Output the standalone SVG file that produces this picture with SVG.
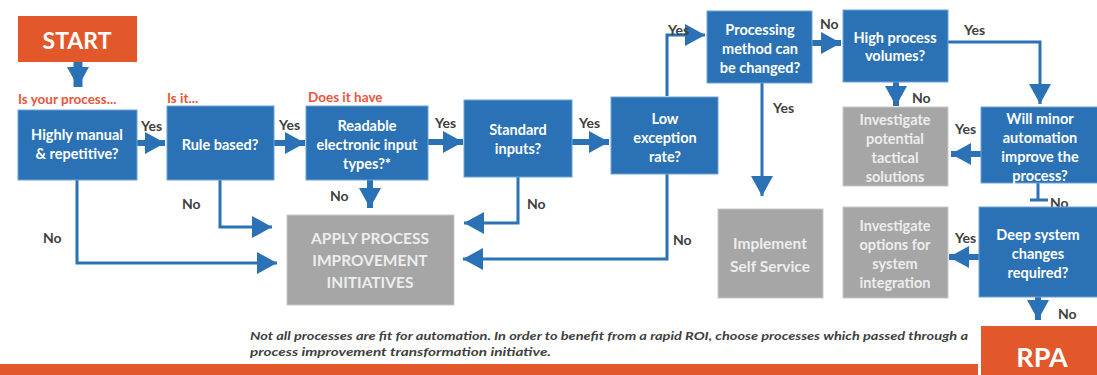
<svg xmlns="http://www.w3.org/2000/svg" width="1097" height="375" viewBox="0 0 1097 375">
<style>
.bx{fill:#2A72B5;stroke:#6FA2D6;stroke-width:1}
.gy{fill:#A6A6A6;stroke:#C9C9C9;stroke-width:1}
.or{fill:#E2582B}
.t{font-family:Lato,"Liberation Sans",sans-serif;font-weight:bold;font-size:14.5px;fill:#FFFFFF;text-anchor:middle;dominant-baseline:central}
.tg{font-family:Lato,"Liberation Sans",sans-serif;font-weight:bold;font-size:14.5px;fill:#EDEDED;text-anchor:middle;dominant-baseline:central}
.tg2{font-family:Lato,"Liberation Sans",sans-serif;font-weight:bold;font-size:15.5px;fill:#EDEDED;text-anchor:middle;dominant-baseline:central}
.h{font-family:Lato,"Liberation Sans",sans-serif;font-weight:bold;font-size:13.5px;fill:#E8553A}
.lb{font-family:Lato,"Liberation Sans",sans-serif;font-weight:bold;font-size:14px;fill:#404040;dominant-baseline:central}
.big{font-family:Lato,"Liberation Sans",sans-serif;font-weight:bold;fill:#FFFFFF;text-anchor:middle;dominant-baseline:central}
.fn{font-family:Lato,"Liberation Sans",sans-serif;font-style:italic;font-weight:bold;font-size:12px;fill:#404040}
.c{fill:none;stroke:#2A72B5;stroke-width:3;marker-end:url(#ah)}
.c6{fill:none;stroke:#2A72B5;stroke-width:6;marker-end:url(#ah)}
</style>
<defs>
<marker id="ah" viewBox="0 0 20 22" refX="20" refY="11" markerWidth="20" markerHeight="22" markerUnits="userSpaceOnUse" orient="auto">
<path d="M0,0 L20,11 L0,22 Z" fill="#2A72B5"/>
</marker>
</defs>
<rect x="0" y="0" width="1097" height="375" fill="#FFFFFF"/>

<g id="connectors">
<path class="c6" d="M78,62 V87" style="stroke-width:9"/>
<path class="c6" d="M137,143 H165"/>
<path class="c6" d="M274,143 H305"/>
<path class="c6" d="M428,142 H463"/>
<path class="c6" d="M572,142 H609"/>
<path class="c" d="M667,96 V35 H705"/>
<path class="c6" d="M812,43 H841"/>
<path class="c" d="M948,42 H1040 V104"/>
<path class="c6" d="M896,82 V106"/>
<path class="c" d="M762,83 V196"/>
<path class="c6" d="M981,154 H951"/>
<path d="M1038,183 V200 M1030,200 H1048" fill="none" stroke="#2A72B5" stroke-width="3"/>
<path class="c6" d="M979,257 H949"/>
<path class="c6" d="M1038,297 V320"/>
<path class="c" d="M77,180 V263 H277"/>
<path class="c" d="M220,180 V227 H272"/>
<path class="c6" d="M370,180 V208"/>
<path class="c" d="M518,177 V223 H464"/>
<path class="c" d="M667,174 V259 H463"/>
<text class="lb" x="141" y="125">Yes</text>
<text class="lb" x="279" y="124">Yes</text>
<text class="lb" x="435" y="122">Yes</text>
<text class="lb" x="579" y="122">Yes</text>
<text class="lb" x="668" y="29">Yes</text>
<text class="lb" x="820" y="23">No</text>
<text class="lb" x="964" y="29">Yes</text>
<text class="lb" x="912" y="97">No</text>
<text class="lb" x="773" y="107">Yes</text>
<text class="lb" x="955" y="128">Yes</text>
<text class="lb" x="1050" y="202">No</text>
<text class="lb" x="955" y="237">Yes</text>
<text class="lb" x="1058" y="313">No</text>
<text class="lb" x="43" y="237">No</text>
<text class="lb" x="182" y="203">No</text>
<text class="lb" x="330" y="195">No</text>
<text class="lb" x="527" y="203">No</text>
<text class="lb" x="673" y="239">No</text>
</g>

<g id="start">
<rect class="or" x="18" y="16" width="119" height="46"/>
<text class="big" x="77" y="40" style="font-size:23px">START</text>
</g>
<g id="manual">
<text class="h" x="18" y="104">Is your process...</text>
<rect class="bx" x="18" y="110" width="119" height="70"/>
<text class="t" x="77" y="134">Highly manual</text>
<text class="t" x="77" y="153">&amp; repetitive?</text>
</g>
<g id="rule">
<text class="h" x="167" y="103">Is it...</text>
<rect class="bx" x="167" y="106" width="107" height="74"/>
<text class="t" x="220" y="144">Rule based?</text>
</g>
<g id="readable">
<text class="h" x="308" y="102">Does it have</text>
<rect class="bx" x="306" y="106" width="122" height="74"/>
<text class="t" x="367" y="125">Readable</text>
<text class="t" x="367" y="144">electronic input</text>
<text class="t" x="367" y="163">types?*</text>
</g>
<g id="standard">
<rect class="bx" x="464" y="100" width="108" height="77"/>
<text class="t" x="518" y="129">Standard</text>
<text class="t" x="518" y="148">inputs?</text>
</g>
<g id="low">
<rect class="bx" x="611" y="97" width="107" height="77"/>
<text class="t" x="665" y="118">Low</text>
<text class="t" x="665" y="137">exception</text>
<text class="t" x="665" y="156">rate?</text>
</g>
<g id="processing">
<rect class="bx" x="707" y="11" width="105" height="72"/>
<text class="t" x="760" y="29">Processing</text>
<text class="t" x="760" y="48">method can</text>
<text class="t" x="760" y="67">be changed?</text>
</g>
<g id="high">
<rect class="bx" x="843" y="10" width="105" height="72"/>
<text class="t" x="895" y="37">High process</text>
<text class="t" x="895" y="55">volumes?</text>
</g>
<g id="tactical">
<rect class="gy" x="843" y="107" width="105" height="79"/>
<text class="tg" x="895" y="119">Investigate</text>
<text class="tg" x="895" y="138">potential</text>
<text class="tg" x="895" y="157">tactical</text>
<text class="tg" x="895" y="176">solutions</text>
</g>
<g id="minor">
<rect class="bx" x="981" y="107" width="118" height="76"/>
<text class="t" x="1040" y="118">Will minor</text>
<text class="t" x="1040" y="137">automation</text>
<text class="t" x="1040" y="156">improve the</text>
<text class="t" x="1040" y="175">process?</text>
</g>
<g id="deep">
<rect class="bx" x="979" y="207" width="120" height="90"/>
<text class="t" x="1038" y="234">Deep system</text>
<text class="t" x="1038" y="253">changes</text>
<text class="t" x="1038" y="272">required?</text>
</g>
<g id="integration">
<rect class="gy" x="843" y="207" width="105" height="91"/>
<text class="tg" x="895" y="225">Investigate</text>
<text class="tg" x="895" y="244">options for</text>
<text class="tg" x="895" y="263">system</text>
<text class="tg" x="895" y="282">integration</text>
</g>
<g id="selfservice">
<rect class="gy" x="718" y="209" width="105" height="89"/>
<text class="tg2" x="770" y="243">Implement</text>
<text class="tg2" x="770" y="266">Self Service</text>
</g>
<g id="apply">
<rect class="gy" x="287" y="215" width="167" height="90"/>
<text class="tg2" x="370" y="238">APPLY PROCESS</text>
<text class="tg2" x="370" y="260">IMPROVEMENT</text>
<text class="tg2" x="370" y="282">INITIATIVES</text>
</g>
<g id="rpa">
<rect class="or" x="981" y="326" width="118" height="50"/>
<text class="big" x="1042" y="356" style="font-size:27px">RPA</text>
</g>
<g id="footer">
<rect class="or" x="0" y="364" width="978" height="11"/>
<text class="fn" x="250" y="340" textLength="718" lengthAdjust="spacingAndGlyphs">Not all processes are fit for automation. In order to benefit from a rapid ROI, choose processes which passed through a</text>
<text class="fn" x="250" y="356" textLength="301" lengthAdjust="spacingAndGlyphs">process improvement transformation initiative.</text>
</g>
</svg>
